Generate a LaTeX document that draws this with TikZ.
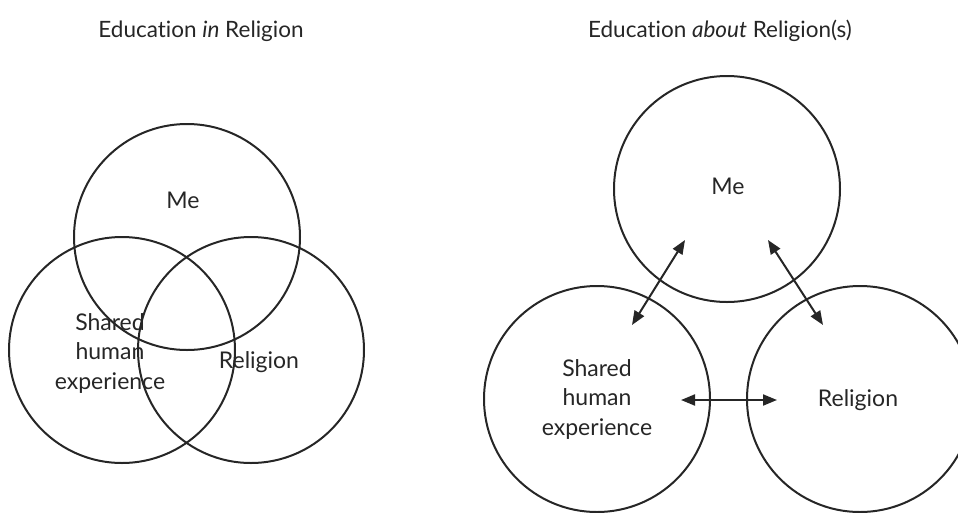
\documentclass[tikz,border=0pt]{standalone}
\usepackage{fontspec}
\setmainfont{Lato}[Ligatures=NoCommon]
\usetikzlibrary{arrows.meta}
\begin{document}
\begin{tikzpicture}[x=1pt,y=-1pt,
  ring/.style={draw=black!85, circle, line width=2pt, minimum size=226pt, inner sep=0pt},
  lbl/.style={font=\fontsize{23}{29.5}\selectfont, text=black!85, align=center, inner sep=0pt},
  ttl/.style={font=\fontsize{22.5}{26}\selectfont, text=black!85, inner sep=0pt},
  link/.style={draw=black!85, line width=2pt,
    {Triangle[length=14pt,width=11pt]}-{Triangle[length=14pt,width=11pt]}}]
\useasboundingbox (0,0) rectangle (958,512);

% titles
\node[ttl] (tL) at (201,31) {Education \textit{in} Religion};
\node[ttl] (tR) at (720,31) {Education \textit{about} Religion(s)};

% overlapping circles
\node[ring] (meL) at (187,237) {};
\node[ring] (shL) at (122,350) {};
\node[ring] (reL) at (251,350) {};
\node[lbl] (meLt) at (183,200) {Me};
\node[lbl] (shLt) at (110,353) {Shared\\human\\experience};
\node[lbl] (reLt) at (259,362) {Religion};

% separate circles
\node[ring] (meR) at (727,189) {};
\node[ring] (shR) at (597,399) {};
\node[ring] (reR) at (860,399) {};
\node[lbl] (meRt) at (728,186) {Me};
\node[lbl] (shRt) at (597,399) {Shared\\human\\experience};
\node[lbl] (reRt) at (858,400) {Religion};

% arrow ends
\coordinate (p1) at (685,240);
\coordinate (q1) at (632,325);
\coordinate (p2) at (768,240);
\coordinate (q2) at (823,325);
\coordinate (p3) at (681,400);
\coordinate (q3) at (777,400);
\draw[link] (p1) -- (q1);
\draw[link] (p2) -- (q2);
\draw[link] (p3) -- (q3);
\end{tikzpicture}
\end{document}
